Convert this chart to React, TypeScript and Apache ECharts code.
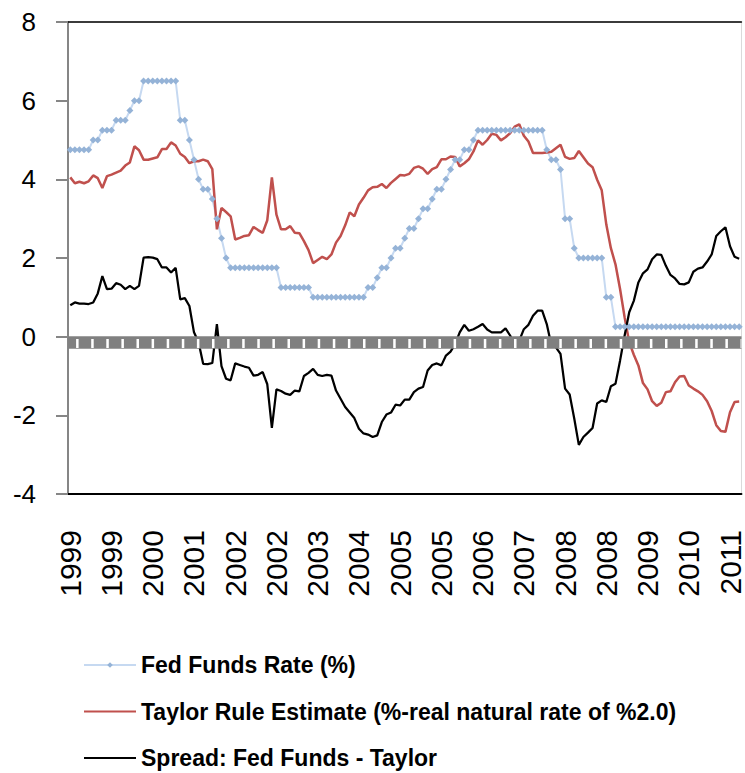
import React, { useEffect, useRef } from "react";
import * as echarts from "echarts";

// Monthly categories, Jan 1999 .. Mar 2011 (147 months)
const START_YEAR = 1999;
const MONTH_COUNT = 147;
const CATEGORIES: string[] = Array.from({ length: MONTH_COUNT }, (_, i) => {
  const y = START_YEAR + Math.floor(i / 12);
  const m = (i % 12) + 1;
  return `${y}-${m < 10 ? "0" + m : m}`;
});

// Fed Funds target rate (month end), %
const FED_FUNDS = [
  4.75, 4.75, 4.75, 4.75, 4.75, 5.0, 5.0, 5.25, 5.25, 5.25,
  5.5, 5.5, 5.5, 5.75, 6.0, 6.0, 6.5, 6.5, 6.5, 6.5,
  6.5, 6.5, 6.5, 6.5, 5.5, 5.5, 5.0, 4.5, 4.0, 3.75,
  3.75, 3.5, 3.0, 2.5, 2.0, 1.75, 1.75, 1.75, 1.75, 1.75,
  1.75, 1.75, 1.75, 1.75, 1.75, 1.75, 1.25, 1.25, 1.25, 1.25,
  1.25, 1.25, 1.25, 1.0, 1.0, 1.0, 1.0, 1.0, 1.0, 1.0,
  1.0, 1.0, 1.0, 1.0, 1.0, 1.25, 1.25, 1.5, 1.75, 1.75,
  2.0, 2.25, 2.25, 2.5, 2.75, 2.75, 3.0, 3.25, 3.25, 3.5,
  3.75, 3.75, 4.0, 4.25, 4.5, 4.5, 4.75, 4.75, 5.0, 5.25,
  5.25, 5.25, 5.25, 5.25, 5.25, 5.25, 5.25, 5.25, 5.25, 5.25,
  5.25, 5.25, 5.25, 5.25, 4.75, 4.5, 4.5, 4.25, 3.0, 3.0,
  2.25, 2.0, 2.0, 2.0, 2.0, 2.0, 2.0, 1.0, 1.0, 0.25,
  0.25, 0.25, 0.25, 0.25, 0.25, 0.25, 0.25, 0.25, 0.25, 0.25,
  0.25, 0.25, 0.25, 0.25, 0.25, 0.25, 0.25, 0.25, 0.25, 0.25,
  0.25, 0.25, 0.25, 0.25, 0.25, 0.25, 0.25,
];

// Taylor rule estimate, %
const TAYLOR = [
  4.05, 3.9, 3.94, 3.9, 3.95, 4.1, 4.03, 3.78, 4.08, 4.12,
  4.17, 4.22, 4.35, 4.43, 4.84, 4.74, 4.5, 4.5, 4.53, 4.56,
  4.77, 4.77, 4.94, 4.86, 4.65, 4.57, 4.41, 4.46, 4.46, 4.5,
  4.46, 4.26, 2.73, 3.27, 3.17, 3.06, 2.47, 2.51, 2.56, 2.58,
  2.79, 2.71, 2.64, 2.96, 4.05, 3.1, 2.73, 2.73, 2.81, 2.64,
  2.63, 2.43, 2.2, 1.87, 1.95, 2.03, 1.97, 2.09, 2.39, 2.56,
  2.83, 3.16, 3.06, 3.36, 3.53, 3.72, 3.8, 3.81, 3.88, 3.78,
  3.91, 4.01, 4.11, 4.1, 4.14, 4.29, 4.33, 4.27, 4.14, 4.26,
  4.31, 4.51, 4.51, 4.58, 4.57, 4.33, 4.41, 4.51, 4.71, 4.99,
  4.88, 5.0, 5.16, 5.13, 4.99, 5.07, 5.17, 5.34, 5.4, 5.11,
  4.96, 4.67, 4.67, 4.67, 4.68, 4.7, 4.79, 4.88, 4.57, 4.52,
  4.54, 4.72, 4.56, 4.4, 4.31, 3.99, 3.72, 2.85, 2.25, 1.84,
  1.21, 0.49, -0.14, -0.46, -0.73, -1.18, -1.34, -1.64, -1.76, -1.68,
  -1.41, -1.39, -1.16, -1.01, -1.0, -1.24, -1.32, -1.39, -1.48, -1.64,
  -1.89, -2.25, -2.4, -2.42, -1.92, -1.66, -1.65,
];

// Spread: Fed Funds - Taylor
const SPREAD = [
  0.8, 0.87, 0.84, 0.84, 0.83, 0.87, 1.1, 1.54, 1.21, 1.22,
  1.36, 1.32, 1.21, 1.29, 1.21, 1.29, 2.01, 2.02, 2.01, 1.97,
  1.76, 1.76, 1.63, 1.75, 0.95, 0.98, 0.78, 0.11, -0.14, -0.69,
  -0.7, -0.67, 0.32, -0.75, -1.07, -1.11, -0.68, -0.72, -0.76, -0.79,
  -0.99, -0.97, -0.9, -1.21, -2.32, -1.34, -1.38, -1.45, -1.48, -1.37,
  -1.39, -1.0, -0.92, -0.82, -0.97, -1.0, -0.97, -0.99, -1.37, -1.58,
  -1.79, -1.93, -2.07, -2.34, -2.46, -2.49, -2.55, -2.51, -2.17, -1.98,
  -1.93, -1.73, -1.75, -1.6, -1.6, -1.41, -1.32, -1.28, -0.86, -0.72,
  -0.68, -0.73, -0.48, -0.38, -0.19, 0.11, 0.3, 0.15, 0.19, 0.25,
  0.32, 0.18, 0.11, 0.11, 0.11, 0.21, 0.03, -0.19, -0.1, 0.19,
  0.3, 0.53, 0.66, 0.66, 0.32, -0.21, -0.27, -0.44, -1.32, -1.47,
  -2.08, -2.75, -2.55, -2.44, -2.32, -1.7, -1.62, -1.66, -1.26, -1.2,
  -0.61, 0.03, 0.62, 0.91, 1.38, 1.61, 1.71, 1.97, 2.09, 2.08,
  1.8, 1.57, 1.48, 1.34, 1.33, 1.38, 1.65, 1.73, 1.76, 1.91,
  2.09, 2.56, 2.68, 2.78, 2.3, 2.03, 1.98,
];

const Y_MIN = -4;
const Y_MAX = 8;
const Y_INTERVAL = 2;
const LABEL_EVERY = 9; // months between x labels

// grey reference band just below zero
const BAND_LEVEL = -0.14;
const NOTCH_LEVEL = -0.175;

const SERIES_NAMES = [
  "Fed Funds Rate (%)",
  "Taylor Rule Estimate (%-real natural rate of %2.0)",
  "Spread: Fed Funds - Taylor",
];

export default function App() {
  const ref = useRef<HTMLDivElement>(null);

  useEffect(() => {
    if (!ref.current) return;
    const chart = echarts.init(ref.current, null, { renderer: "svg" });
    const font = "Liberation Sans";
    chart.setOption({
      animation: false,
      backgroundColor: "#ffffff",
      grid: {
        left: 68,
        right: 1,
        top: 22,
        bottom: 279,
        show: true,
        borderColor: "#D9D9D9",
        borderWidth: 1,
      },
      legend: {
        orient: "vertical",
        left: 83,
        top: 652,
        height: 121,
        padding: 0,
        itemWidth: 52,
        itemHeight: 7,
        itemGap: 20.5,
        selectedMode: false,
        data: [
          { name: SERIES_NAMES[0] },
          { name: SERIES_NAMES[1], itemStyle: { opacity: 0 } },
          { name: SERIES_NAMES[2], itemStyle: { opacity: 0 } },
        ],
        textStyle: {
          fontFamily: font,
          fontSize: 23,
          fontWeight: "bold",
          color: "#000",
          lineHeight: 26,
        },
      },
      xAxis: [
        {
          type: "category",
          data: CATEGORIES,
          boundaryGap: true,
          axisLine: { onZero: false, lineStyle: { color: "#000", width: 2 } },
          axisTick: { show: false },
          splitLine: { show: false },
          axisLabel: {
            interval: LABEL_EVERY - 1,
            rotate: 90,
            margin: 36,
            fontFamily: font,
            fontSize: 30,
            color: "#000",
            formatter: (v: string) => v.slice(0, 4),
          },
        },
        {
          type: "category",
          position: "top",
          data: CATEGORIES,
          boundaryGap: true,
          axisLine: { onZero: false, lineStyle: { color: "#000", width: 1.5 } },
          axisTick: { show: false },
          axisLabel: { show: false },
          splitLine: { show: false },
        },
      ],
      yAxis: {
        type: "value",
        min: Y_MIN,
        max: Y_MAX,
        interval: Y_INTERVAL,
        axisLine: { show: true, onZero: false, lineStyle: { color: "#868686", width: 2 } },
        axisTick: { show: true, length: 12, lineStyle: { color: "#868686", width: 2 } },
        splitLine: { show: false },
        axisLabel: {
          margin: 32,
          fontFamily: font,
          fontSize: 26,
          color: "#000",
        },
      },
      series: [
        {
          name: "band",
          type: "line",
          data: [],
          silent: true,
          markLine: {
            silent: true,
            symbol: ["none", "none"],
            label: { show: false },
            emphasis: { disabled: true },
            data: [
              { yAxis: BAND_LEVEL, lineStyle: { color: "#808080", width: 12.6, type: "solid" } },
              {
                yAxis: NOTCH_LEVEL,
                lineStyle: { color: "#FFFFFF", width: 9, type: [2.5, 12.6], dashOffset: 7.3 },
              },
            ],
          },
        },
        {
          name: SERIES_NAMES[0],
          type: "line",
          data: FED_FUNDS,
          symbol: "diamond",
          symbolSize: 7,
          showSymbol: true,
          showAllSymbol: true,
          lineStyle: { color: "#C6D9F1", width: 2 },
          itemStyle: { color: "#95B3D7" },
        },
        {
          name: SERIES_NAMES[1],
          type: "line",
          data: TAYLOR,
          symbol: "none",
          lineStyle: { color: "#C0504D", width: 2.5 },
          itemStyle: { color: "#C0504D" },
        },
        {
          name: SERIES_NAMES[2],
          type: "line",
          data: SPREAD,
          symbol: "none",
          lineStyle: { color: "#000000", width: 2.25 },
          itemStyle: { color: "#000000" },
        },
      ],
    });
    return () => chart.dispose();
  }, []);

  return (
    <div
      ref={ref}
      style={{ position: "absolute", left: 0, top: 0, width: 745, height: 773, background: "#fff" }}
    />
  );
}
